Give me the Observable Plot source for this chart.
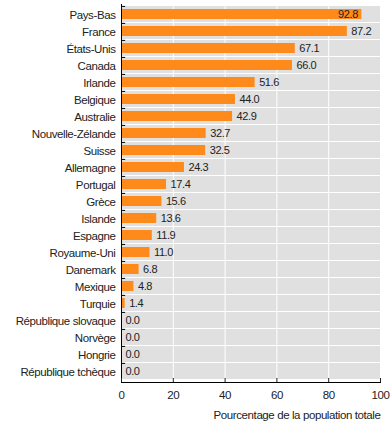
<!DOCTYPE html>
<html>
<head>
<meta charset="utf-8">
<script src="https://cdn.jsdelivr.net/npm/d3@7"></script>
<script src="https://cdn.jsdelivr.net/npm/@observablehq/plot@0.6"></script>
<style>
  html, body { margin: 0; padding: 0; background: #fff; }
  #chart svg { display: block; }
  #chart svg text { letter-spacing: -0.4px; }
</style>
</head>
<body>
<div id="chart"></div>
<script>
const countries = ["Pays-Bas","France","États-Unis","Canada","Irlande","Belgique","Australie","Nouvelle-Zélande","Suisse","Allemagne","Portugal","Grèce","Islande","Espagne","Royaume-Uni","Danemark","Mexique","Turquie","République slovaque","Norvège","Hongrie","République tchèque"];
const values = [92.8,87.2,67.1,66.0,51.6,44.0,42.9,32.7,32.5,24.3,17.4,15.6,13.6,11.9,11.0,6.8,4.8,1.4,0.0,0.0,0.0,0.0];
const xTicks = [0,20,40,60,80,100];
const axisTitle = "Pourcentage de la population totale";

const data = countries.map((c, i) => ({country: c, value: values[i]}));

const W = 390, H = 428, mTop = 4, mBottom = 46, mLeft = 121, mRight = 10;
const bw = (H - mTop - mBottom) / countries.length;
const font = "'Liberation Sans', Arial, sans-serif";

const chart = Plot.plot({
  width: W,
  height: H,
  marginTop: mTop,
  marginBottom: mBottom,
  marginLeft: mLeft,
  marginRight: mRight,
  style: {fontFamily: font, fontSize: "11.5px", color: "#222"},
  x: {domain: [0, 100], ticks: xTicks},
  y: {domain: countries, padding: 0},
  marks: [
    Plot.barX(data, {y: "country", x1: 0, x2: 100, fill: "#e0e0e0", insetBottom: 1}),
    Plot.gridX(xTicks.filter(t => t > 0 && t < 100), {stroke: "#fff", strokeOpacity: 1, strokeWidth: 1}),
    Plot.barX(data, {y: "country", x: "value", fill: "#ff8a1c", insetTop: 3, insetBottom: 4}),
    Plot.text(data.filter(d => d.value < 90), {y: "country", x: "value", text: d => d.value.toFixed(1), textAnchor: "start", dx: 4, dy: -0.5, fill: "#222", fontSize: 11}),
    Plot.text(data.filter(d => d.value >= 90), {y: "country", x: "value", text: d => d.value.toFixed(1), textAnchor: "end", dx: -4, dy: -0.5, fill: "#222", fontSize: 11}),
    Plot.ruleY(data, {y: "country", x1: 0, x2: 1.6, dy: -bw / 2, stroke: "#000", strokeWidth: 1}),
    Plot.frame({anchor: "left", stroke: "#000"}),
    Plot.frame({anchor: "bottom", stroke: "#000"}),
    Plot.axisY({tickSize: 0, tickPadding: 6, label: null, fill: "#222", fontSize: 11.5}),
    Plot.axisX({tickSize: -4, tickPadding: 12, ticks: xTicks, tickFormat: d => String(d), fontSize: 11.5, label: null}),
    Plot.text([axisTitle], {frameAnchor: "bottom-right", textAnchor: "end", dy: 36, fill: "#222", fontSize: 11.5})
  ]
});
document.getElementById("chart").appendChild(chart);
</script>
</body>
</html>
